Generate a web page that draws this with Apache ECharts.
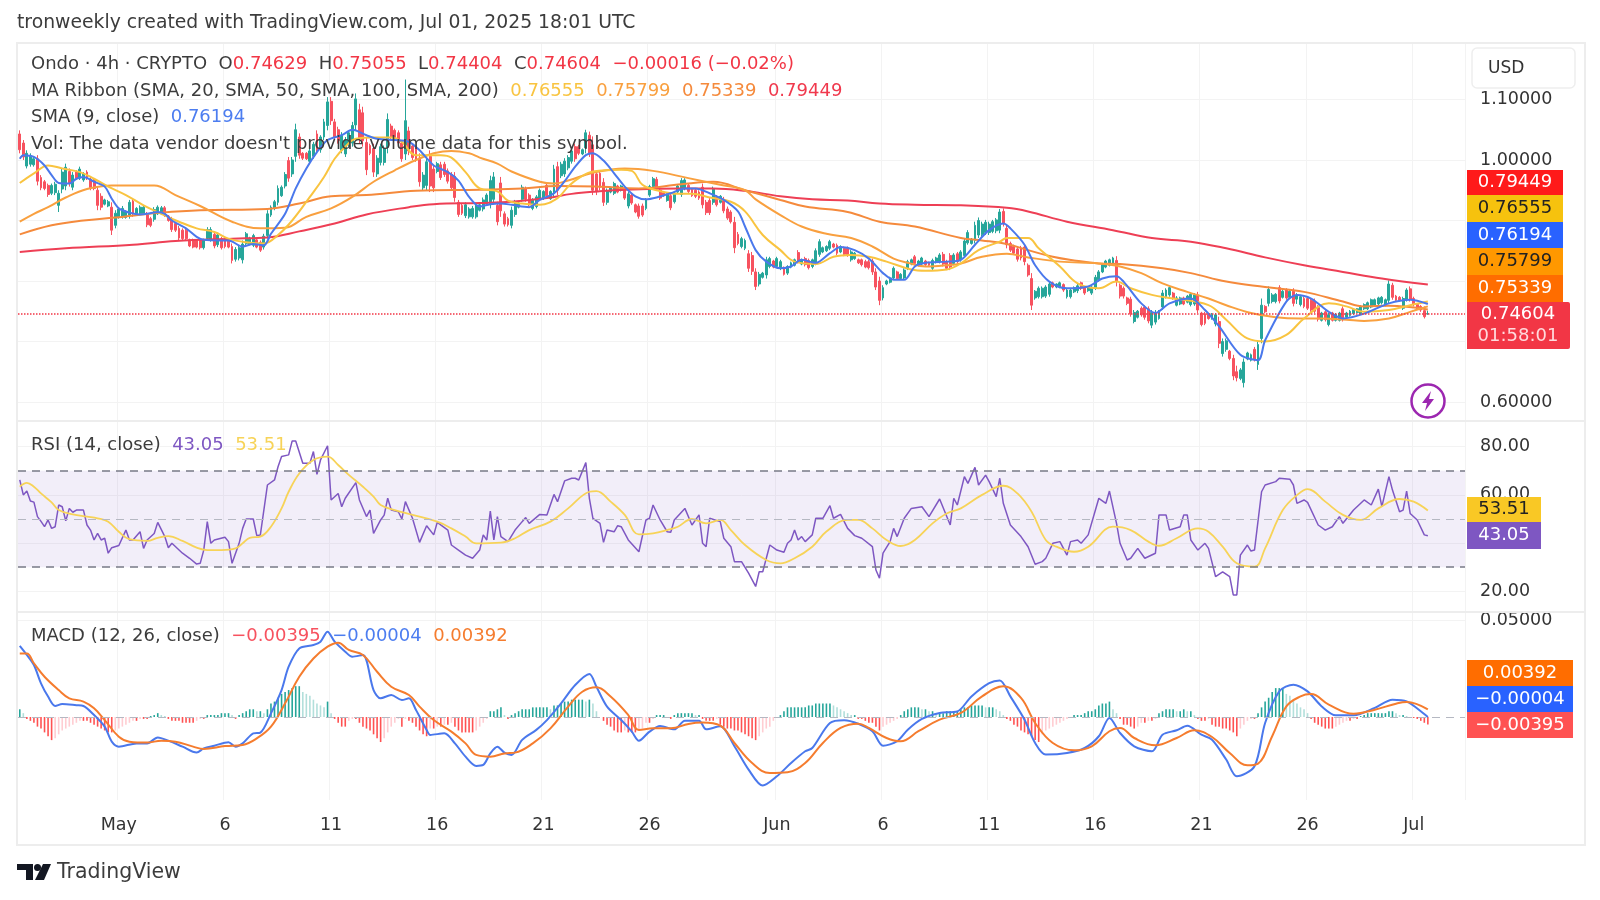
<!DOCTYPE html>
<html><head><meta charset="utf-8">
<style>html,body{margin:0;padding:0;background:#fff}#c{width:1600px;height:900px}</style>
<script src="https://cdn.jsdelivr.net/npm/echarts@6/dist/echarts.min.js"></script>
</head><body><div id="c"></div>
<script>
// Time-axis tick labels: 4h slot index -> label
const tickSlots=[28,58,88,118,148,178,214,244,274,304,334,364,394];
const tickLabels=['May','6','11','16','21','26','Jun','6','11','16','21','26','Jul'];
const slotCount=409;
// Candles in thousandths of a USD: [open, close, low, high], one per 4h slot
const candlesMilli=[
[1043,1017,1011,1049],[1028,1005,1000,1033],[990,1011,986,1016],[993,1007,989,1011],[992,1002,989,1005],[1002,965,958,1008],[971,954,950,975],[964,953,950,967],[958,943,939,961],[945,958,942,961],
[946,960,942,964],[925,945,914,950],[952,980,945,986],[957,988,950,994],[981,961,956,986],[955,975,950,980],[980,970,967,983],[970,985,967,989],[967,977,964,980],[980,970,967,983],
[968,954,950,972],[966,953,950,969],[950,925,917,956],[940,922,917,945],[927,934,925,936],[924,931,922,934],[922,884,876,930],[892,912,887,917],[906,919,903,922],[906,920,903,924],
[905,914,903,917],[908,930,903,934],[932,911,906,936],[911,920,909,922],[911,922,909,925],[911,922,909,925],[910,893,889,914],[903,892,889,906],[902,918,898,922],[911,922,909,925],
[911,921,909,924],[921,909,906,924],[907,900,898,909],[902,885,881,906],[895,884,881,898],[887,871,867,891],[884,870,867,887],[884,870,867,887],[868,858,856,870],[868,856,854,870],
[867,856,854,869],[867,855,852,869],[855,868,852,870],[870,885,867,889],[868,885,865,889],[877,858,854,881],[860,876,856,880],[870,855,852,873],[870,857,854,873],[868,856,854,870],
[857,834,829,862],[836,852,832,856],[838,855,834,859],[835,861,829,867],[862,878,859,881],[861,871,859,873],[859,875,856,878],[868,856,854,870],[864,851,848,867],[856,874,852,878],
[875,911,870,917],[909,922,906,925],[920,931,917,934],[930,953,925,958],[941,955,939,958],[957,976,953,980],[999,970,964,1005],[977,1000,972,1005],[1006,1050,997,1060],[1038,1008,1002,1044],
[1011,1003,1000,1013],[1011,1002,1000,1013],[998,1015,994,1019],[1006,1026,1002,1030],[1043,1017,1011,1049],[1017,1038,1012,1041],[1038,1063,1033,1068],[1057,1096,1049,1104],[1097,1065,1058,1104],[1063,1038,1033,1068],
[1050,1032,1027,1055],[1016,1041,1011,1046],[1010,1033,1005,1038],[1026,1045,1022,1049],[1028,1057,1022,1063],[1058,1101,1049,1110],[1083,1037,1027,1093],[1078,1032,1022,1088],[1029,984,975,1038],[1024,1011,1008,1027],
[1019,980,972,1027],[977,1003,972,1008],[996,1022,991,1027],[996,1019,991,1024],[1021,1067,1011,1077],[1056,1037,1033,1060],[1049,1036,1033,1052],[1045,1028,1024,1049],[1028,1002,997,1033],[1010,1065,1000,1133],
[1048,1015,1008,1055],[1023,1004,1000,1027],[1018,1001,997,1022],[1003,964,956,1011],[954,975,950,980],[958,997,950,1005],[1006,957,947,1016],[985,954,947,991],[981,994,978,997],[992,971,967,997],
[993,976,972,997],[982,965,961,986],[976,954,950,980],[973,938,931,980],[930,910,906,934],[925,912,909,928],[908,926,904,930],[906,919,903,922],[906,920,903,924],[906,924,903,928],
[917,926,915,928],[919,934,915,938],[928,942,926,945],[928,966,920,974],[935,972,927,980],[925,898,892,931],[962,916,906,972],[911,894,890,915],[903,893,890,906],[892,917,887,923],
[910,930,906,934],[922,929,920,931],[935,955,931,959],[952,935,931,956],[942,926,923,945],[920,934,917,937],[923,939,920,942],[937,950,934,953],[936,948,934,950],[958,941,937,962],
[936,948,934,950],[945,985,937,992],[989,950,942,997],[974,993,970,997],[977,998,972,1003],[987,1004,983,1008],[998,1015,994,1019],[1022,1002,997,1027],[1022,1011,1008,1025],[1010,1017,1008,1019],
[1020,1045,1011,1050],[1041,1011,1005,1047],[1025,950,942,1039],[977,948,942,983],[978,955,950,983],[963,930,924,970],[930,949,926,953],[947,954,945,956],[945,961,942,964],[957,947,945,959],
[950,957,948,959],[950,937,934,953],[924,944,920,948],[942,929,926,945],[926,914,912,928],[924,907,903,928],[924,909,906,928],[920,934,917,937],[942,956,939,959],[956,969,953,972],
[968,954,950,972],[950,937,934,953],[946,941,939,948],[933,943,931,945],[941,921,917,945],[931,945,928,948],[947,957,945,959],[943,966,939,970],[953,967,950,970],[958,948,945,961],
[951,941,939,953],[950,940,937,953],[947,937,934,950],[955,926,920,961],[930,913,909,934],[933,913,909,937],[930,952,926,956],[939,926,923,942],[930,940,928,942],[935,916,912,939],
[919,904,901,923],[914,898,895,917],[897,855,846,906],[877,862,859,881],[857,870,854,873],[854,867,851,870],[845,821,815,851],[842,816,810,848],[815,791,785,821],[795,811,791,815],
[806,813,804,815],[810,835,804,840],[824,837,821,840],[833,823,821,835],[824,837,821,840],[821,832,818,835],[822,811,809,824],[813,824,810,826],[823,830,821,832],[826,835,824,837],
[847,832,829,851],[828,835,826,837],[837,827,824,840],[834,822,819,837],[824,835,821,837],[830,850,826,854],[844,865,840,869],[848,855,846,857],[850,857,848,859],[854,865,851,868],
[861,856,854,863],[859,846,843,862],[848,857,846,859],[854,844,841,857],[854,843,840,857],[835,848,832,851],[837,846,835,848],[835,830,828,837],[835,827,824,837],[832,823,821,835],
[832,822,819,835],[833,815,810,837],[815,790,785,821],[800,768,760,807],[772,789,768,793],[795,800,793,802],[798,805,796,807],[805,821,802,824],[815,804,802,817],[804,811,802,813],
[805,818,802,821],[821,832,818,835],[828,835,826,837],[840,829,826,843],[826,833,824,835],[828,838,826,840],[833,827,825,835],[830,826,824,832],[821,834,818,837],[831,838,829,840],
[832,843,829,846],[844,828,824,848],[832,821,818,835],[842,823,818,846],[829,843,826,846],[845,832,829,848],
[835,848,832,851],[842,866,838,871],[863,880,860,884],[862,869,860,871],[867,892,862,898],[876,900,871,905],[877,894,873,898],[880,897,876,901],[880,894,876,898],[882,898,879,901],
[883,901,879,904],[884,914,879,919],[915,895,890,920],[887,860,854,893],[862,851,848,865],[857,846,843,860],[853,836,832,857],[854,838,834,858],[856,832,826,860],[826,810,807,829],
[804,760,752,813],[772,783,769,785],[774,788,771,791],[774,788,771,791],[775,790,772,793],[778,795,774,799],[797,790,788,799],[790,795,788,796],[790,797,788,799],[794,785,782,796],
[774,785,771,788],[774,785,771,788],[782,789,780,791],[784,792,780,795],[797,788,785,799],[789,780,777,791],[784,789,782,791],[780,790,777,793],[788,806,785,810],[802,815,799,818],
[815,827,813,829],[823,833,821,835],[826,835,824,837],[828,838,825,840],[834,799,791,841],[793,775,771,796],[788,775,771,791],[772,763,760,774],[770,746,741,774],[733,748,730,752],
[740,750,738,752],[755,744,741,758],[757,740,736,760],[754,734,730,758],[727,748,722,752],[732,748,728,752],[738,749,736,752],[757,780,752,785],[774,785,771,788],[777,789,774,792],
[780,771,769,782],[760,772,758,775],[762,772,760,774],[772,762,760,774],[765,775,763,777],[761,778,758,781],[762,777,759,780],[777,752,747,782],[747,728,725,749],[746,730,727,749],
[745,738,736,747],[738,745,736,747],[729,744,725,747],[733,697,689,741],[680,700,675,705],[687,701,683,705],[684,672,669,686],[672,643,636,678],[650,640,634,660],[639,653,636,656],
[632,666,624,672],[671,681,669,683],[669,678,667,680],[687,670,667,691],[662,695,653,702],[705,760,697,771],[758,749,747,760],[763,786,758,791],[766,777,763,780],[766,778,763,780],
[789,767,763,793],[773,783,771,785],[785,772,769,788],[773,783,771,785],[783,763,758,788],[770,776,762,780],[761,774,758,777],[771,758,755,774],[771,755,752,774],[768,752,749,771],
[767,750,747,771],[756,737,733,760],[735,747,733,749],[749,736,733,752],[728,744,725,747],[747,735,733,749],[735,745,733,747],[735,747,733,749],[754,736,733,758],[740,747,738,749],
[743,750,741,752],[746,753,744,755],[748,754,747,755],[746,758,744,760],[754,761,752,763],[754,764,752,766],[757,769,755,771],[760,769,758,771],[762,772,760,774],[764,773,761,775],
[760,769,758,771],[768,795,763,801],[793,773,769,797],[775,768,766,777],[773,768,766,775],[755,771,752,774],[769,785,766,788],[787,770,766,791],[771,761,758,774],[761,754,752,763],
[758,752,749,760],[751,741,738,758],[746,746,744,751]];
// Moving averages: [slot, thousandths of a USD]
const sma9=[[0,1002],[1,1008],[4,1005],[7,991],[9,975],[11,962],[14,961],[16,969],[18,972],[21,964],[24,956],[26,936],[28,920],[31,913],[34,910],[36,911],[39,914],[41,911],[43,900],[47,887],[50,873],[52,868],[57,867],[59,867],[63,857],[66,861],[69,859],[71,878],[75,911],[78,953],[81,986],[84,1013],[87,1033],[91,1041],[94,1050],[98,1041],[101,1035],[106,1033],[110,1030],[113,1016],[117,991],[121,980],[124,966],[127,939],[130,923],[133,927],[136,928],[139,926],[144,922],[147,934],[151,945],[154,965],[157,989],[160,1008],[162,1011],[165,999],[168,978],[171,956],[174,940],[177,935],[180,938],[184,945],[188,953],[191,953],[195,945],[199,934],[203,915],[205,890],[208,851],[211,832],[215,821],[218,824],[221,835],[225,830],[229,846],[232,856],[236,851],[240,837],[244,813],[247,802],[250,802],[253,824],[256,830],[262,832],[266,835],[270,860],[274,884],[278,895],[280,887],[284,860],[287,826],[291,799],[296,788],[302,791],[306,804],[310,808],[312,799],[317,763],[321,747],[325,763],[331,771],[335,752],[339,725],[345,678],[350,669],[352,702],[358,766],[361,777],[365,771],[370,749],[374,738],[380,746],[387,763],[393,769],[398,762]];
const sma20=[[0,962],[4,978],[8,991],[12,986],[17,980],[21,969],[25,956],[30,942],[35,925],[40,911],[45,898],[50,887],[55,881],[59,870],[64,864],[69,862],[73,876],[77,900],[82,939],[86,972],[89,1002],[92,1022],[95,1035],[100,1037],[105,1037],[108,1030],[112,1008],[119,1008],[122,1004],[126,980],[130,953],[135,948],[138,933],[142,928],[147,926],[152,937],[155,956],[158,970],[162,981],[170,984],[173,982],[176,959],[180,950],[186,944],[190,944],[195,938],[201,931],[205,915],[210,876],[215,851],[219,832],[225,828],[230,840],[235,843],[240,840],[245,832],[252,819],[256,817],[262,819],[266,829],[271,851],[277,865],[279,871],[285,871],[288,854],[294,824],[299,796],[305,788],[310,799],[314,788],[320,777],[326,771],[336,760],[341,736],[347,705],[352,700],[358,711],[363,738],[370,763],[375,758],[380,749],[387,752],[393,760],[398,766]];
const sma50=[[0,898],[4,911],[8,922],[13,938],[19,952],[26,958],[38,958],[44,942],[51,924],[60,898],[68,887],[75,888],[81,906],[88,920],[94,939],[100,964],[106,983],[112,1000],[117,1011],[122,1015],[127,1011],[130,1004],[135,994],[139,981],[147,964],[151,961],[155,966],[162,979],[171,986],[179,982],[189,970],[198,959],[205,950],[208,935],[215,909],[221,890],[228,878],[235,871],[241,857],[247,837],[251,830],[256,824],[262,826],[266,829],[272,840],[279,845],[285,839],[294,832],[305,829],[311,824],[317,813],[323,796],[330,782],[336,771],[341,760],[348,747],[355,740],[362,738],[368,738],[375,736],[380,734],[387,738],[393,749],[398,758]];
const sma100=[[0,877],[9,892],[18,900],[27,905],[40,913],[51,917],[70,919],[79,928],[88,940],[98,942],[112,949],[130,951],[142,953],[152,957],[163,956],[175,953],[187,960],[196,964],[205,950],[215,934],[222,923],[234,914],[243,898],[253,890],[266,871],[272,867],[279,861],[285,851],[292,840],[298,834],[305,829],[311,828],[323,821],[331,813],[341,799],[352,790],[363,782],[374,766],[380,758],[387,759],[398,753]];
const sma200=[[0,848],[13,854],[32,860],[44,866],[60,870],[70,872],[79,882],[89,895],[98,910],[110,922],[117,927],[130,929],[139,931],[149,937],[156,944],[163,948],[171,951],[187,953],[196,953],[205,949],[215,940],[224,935],[234,933],[243,928],[253,926],[266,925],[279,921],[285,915],[296,898],[309,884],[320,871],[331,865],[341,854],[352,839],[363,826],[374,815],[385,804],[398,794]];
// RSI and its MA: [slot, value]
const rsiLine=[[0,66.2],[1,60],[2,61.6],[3,57.5],[4,57],[5,51],[6,49],[7,46.8],[8,49.6],[9,46.1],[10,46.8],[11,55.8],[12,55.1],[13,49.2],[14,54.4],[15,52.8],[16,53.7],[18,53.7],[19,47.5],[20,45.4],[21,41.3],[22,44],[23,41.3],[24,42],[25,35.8],[26,38.1],[28,39],[30,45.4],[31,41.3],[32,41.3],[34,44.7],[35,37.8],[36,41.3],[38,44],[39,48.6],[41,42.7],[42,38.1],[43,39.9],[46,35.8],[48,33.7],[50,31.3],[51,31.6],[52,37.1],[53,48.9],[54,39.9],[55,41.3],[58,42.4],[59,40.6],[60,31.6],[62,39.9],[63,46.1],[64,50],[66,50],[67,43.1],[68,43.4],[70,64.1],[72,66.2],[73,71.7],[74,75.9],[76,76.6],[77,82.4],[78,82.4],[80,73.1],[82,73.1],[83,78],[84,68.5],[85,74.5],[87,80.4],[88,57.9],[90,60.6],[91,55.1],[92,58.6],[95,65.1],[96,57.9],[98,51],[99,53.7],[100,44],[102,49.6],[103,51.6],[104,58.6],[105,53.7],[107,53],[108,50],[109,57.2],[111,50.3],[113,40.3],[115,47.2],[117,43.4],[118,48.6],[121,45.4],[122,39.2],[124,37.1],[126,35],[128,33.7],[130,37.1],[131,43.4],[132,41.3],[133,53.3],[134,41.3],[135,51],[136,42.7],[138,40.6],[140,45.4],[142,48.9],[143,50.6],[144,48.2],[147,51.9],[149,51.7],[151,60.2],[152,57.2],[154,65.8],[156,66.9],[157,66.9],[158,66.2],[160,73.4],[161,58.6],[162,50.3],[164,48.2],[165,40.3],[166,45.4],[168,44.7],[169,47.2],[170,46.8],[172,41.3],[175,36.4],[177,49.6],[178,50.3],[179,55.8],[181,49.6],[183,44.7],[184,44.5],[185,49.6],[188,54.4],[190,47.5],[192,51.7],[193,39.9],[194,38.5],[195,50.3],[198,48.9],[199,42],[201,38.5],[202,32.3],[204,32.3],[206,27.5],[208,22],[209,28.1],[210,28.1],[212,39.2],[214,37.1],[216,36.2],[217,39.9],[218,41.3],[219,45.4],[220,41.3],[221,42.7],[222,40.6],[224,43.4],[225,50.3],[227,50.3],[229,55.5],[230,50.3],[232,51.9],[234,46.1],[236,43.1],[238,42],[241,38.5],[242,28.8],[243,25.4],[244,35.8],[246,40.6],[247,46.1],[248,42.7],[250,50.3],[252,54.4],[255,55.1],[257,51],[260,58.3],[263,47.5],[264,58.6],[265,55.8],[267,67.6],[268,64.8],[270,71.4],[271,64.1],[273,68.2],[274,65.5],[276,59.3],[277,66.9],[278,56.5],[280,47.5],[283,42.7],[285,38.5],[287,31.2],[289,32.3],[290,33.7],[292,39.9],[294,40.6],[296,35],[297,40.6],[299,41.3],[300,39.9],[302,43.4],[305,58.6],[307,56.5],[308,61.6],[310,48.2],[311,39.9],[313,33],[314,33.7],[316,37.8],[318,33.7],[321,35.8],[322,51.7],[324,51.7],[325,45.4],[328,46.8],[329,51.7],[330,51.7],[331,41.3],[333,37.1],[335,39.9],[336,37.8],[338,26.1],[340,28.1],[342,26.1],[343,18.5],[344,18.5],[345,35],[347,39.2],[348,36.7],[349,37.1],[351,61.3],[352,64.1],[355,65.5],[356,66.9],[359,66.5],[360,64.1],[361,56.5],[363,57.9],[364,56.9],[367,47.5],[369,45.4],[371,46.8],[373,51],[374,48.2],[377,53.7],[380,57.9],[382,55.8],[384,62.4],[385,55.1],[387,67.6],[388,62],[390,53],[391,53.7],[392,61.6],[393,52.3],[395,49.6],[397,43.4],[398,43.05]];
const rsiMa=[[0,63.4],[2,65],[4,63.4],[6,60.6],[9,56.9],[11,53.7],[15,51.9],[19,51],[22,50.3],[25,48.9],[28,44.7],[31,41.6],[36,40.9],[39,42.2],[42,42.9],[46,40.9],[50,38.1],[53,37.1],[57,37.1],[61,37.8],[63,39.9],[65,42.2],[68,42.7],[71,46.8],[74,54.4],[76,61.3],[79,68.9],[83,74.5],[87,75.9],[90,72.4],[93,68.3],[97,63.4],[100,59.3],[102,55.8],[106,53.7],[111,51.7],[118,48.9],[122,46.1],[126,42.7],[129,39.9],[136,40.2],[140,42],[144,45.4],[150,48.9],[155,54.4],[161,61.3],[163,61.6],[167,57.2],[171,51.7],[175,43.6],[179,44],[183,45.4],[186,46.8],[190,50],[194,48.2],[198,49.6],[201,45.4],[205,39.2],[211,33],[215,31.6],[219,33.7],[224,38.5],[228,44.8],[234,49.6],[237,49.6],[241,46.1],[245,41.3],[249,38.8],[253,41.3],[258,48.2],[262,52.3],[266,54.4],[272,60],[278,63.8],[282,60.6],[286,53],[290,41.3],[293,38.5],[298,36.4],[302,38.5],[309,46.8],[314,45.4],[319,40.6],[322,38.9],[327,42],[333,46.1],[336,44.7],[340,38.5],[344,31.6],[349,30.2],[352,37.8],[357,53.7],[361,59.9],[364,62.4],[369,57.2],[374,51.7],[379,49.6],[384,54.4],[390,58.3],[394,57.2],[398,53.51]];
// MACD lines in thousandths: [slot, value]
const macdLine=[[0,36.9],[2,32.2],[4,27],[6,17.5],[8,10.6],[10,5.7],[12,6.7],[16,6.1],[18,5.7],[21,1],[24,-5],[26,-12.8],[28,-15.4],[33,-13.7],[36,-13.7],[39,-10.6],[42,-12.3],[46,-15.4],[50,-18.5],[52,-16.3],[55,-14.9],[59,-13.1],[61,-15.4],[63,-13.7],[66,-8.5],[68,-8.1],[71,1.9],[74,14],[76,26.1],[79,35.6],[83,37.4],[85,39.1],[87,44.3],[89,39.1],[92,33.9],[94,31.3],[97,32.2],[100,14],[102,9.7],[105,11.4],[108,8.8],[110,9.7],[112,3.6],[115,-6.7],[116,-9.3],[120,-8.5],[123,-13.7],[126,-20.6],[129,-25.4],[131,-24.9],[133,-18.9],[135,-15.4],[137,-18.5],[139,-19.7],[142,-11.9],[146,-6.7],[149,-1.6],[153,7.1],[157,16.6],[161,22.3],[163,15.7],[166,5.4],[170,-1.6],[173,-7.6],[175,-12.3],[178,-7.6],[181,-4.7],[185,-6.4],[188,-1.9],[192,-1.9],[194,-6.4],[198,-4.8],[202,-15.2],[206,-27.3],[210,-35.6],[214,-30.8],[218,-23.9],[222,-17.8],[224,-16.1],[229,-3.1],[233,-1.7],[237,-3.5],[241,-7.4],[244,-14.9],[248,-12.6],[251,-6.6],[255,-1],[260,2.1],[265,2.9],[269,10.7],[274,17.6],[277,19],[280,10.7],[284,-1.4],[287,-13.5],[290,-19.5],[296,-18.7],[301,-16.1],[305,-10],[308,-0.5],[311,-8.3],[315,-15.2],[320,-17.8],[323,-9.2],[327,-6.9],[330,-4.5],[334,-9.2],[337,-11.8],[341,-22.1],[344,-30.8],[349,-25.6],[352,-3.1],[356,13.3],[360,16.8],[364,13.3],[368,5.5],[372,0.9],[377,0.9],[383,4.7],[388,9],[392,8.1],[398,-0.04]];
const macdSignal=[[0,33],[2,33],[4,27.9],[7,20.9],[11,14],[14,9.7],[18,8],[21,4.5],[24,-1.6],[28,-10.2],[31,-12.8],[36,-13.3],[40,-12.3],[44,-12.8],[49,-15.4],[52,-16.6],[58,-15.1],[63,-14.5],[67,-11.1],[71,-5],[75,7.1],[79,20.9],[83,30.4],[87,36.5],[90,38.6],[93,34.8],[97,32.2],[101,23.5],[105,15.7],[110,11.4],[113,5.4],[117,-1.6],[122,-7.6],[126,-13.7],[129,-19.7],[133,-20.6],[137,-18.9],[140,-18.5],[145,-13.7],[150,-5.9],[155,5.4],[159,13.1],[163,15.4],[167,10.6],[172,1],[175,-6.7],[179,-5.9],[184,-5.9],[189,-3.6],[193,-2.9],[198,-4.5],[202,-13.5],[207,-23.9],[212,-29.1],[217,-28.7],[222,-23.9],[227,-13.5],[232,-5.7],[237,-3.5],[240,-5.7],[245,-10.9],[249,-12.6],[254,-7.4],[260,-1.4],[266,2.1],[272,10.7],[278,15.9],[283,9.9],[287,-3.1],[292,-13.5],[298,-17.3],[303,-15.2],[308,-7.4],[311,-5.7],[315,-10.9],[321,-14.7],[327,-10.9],[332,-6.9],[337,-10.4],[342,-18.7],[347,-25.1],[350,-24.2],[354,-10],[358,5.5],[362,10.7],[365,11.9],[370,6.4],[377,1.7],[383,3.8],[389,6.9],[392,7.8],[398,3.92]];
// MACD histogram in thousandths, one per 4h slot
const macdHist=[4,2,-1,-2,-3,-5,-6,-8,-10,-12,-11,-9,-7,-6,-5,-4,-3,-2,-2,-2,-3,-4,-5,-6,-7,-8,-8,-7,-6,-5,-4,-3,-2,-2,-1,-1,-1,.5,1,2,1,.5,-1,-2,-2,-2,-3,-3,-3,-3,-2,-1,-1,1,1,1,1,2,2,2,1,-1,1,2,3,4,4,3,3,2,4,7,8,10,12,13,14,15,16,16,13,12,11,9,7,6,5,8,2,-1,-3,-5,-5,-2,-1,-1,-3,-5,-6,-7,-9,-11,-13,-11,-8,-5,-3,-1,-5,-1,-2,-3,-5,-7,-9,-10,-6,-6,-5,-5,-4,-4,-3,-5,-7,-8,-8,-8,-8,-7,-5,-3,-1,3,3,4,5,1,-1,1,2,3,4,4,4,5,5,5,5,5,4,6,6,7,8,8,9,9,9,9,8,9,7,3,0,-2,-4,-5,-7,-8,-8,-7,-8,-8,-8,-7,-6,-3,-3,-1,1,1,1,0,-1,1,2,2,2,2,2,1,1,-1,-2,-2,-2,-1,-4,-5,-6,-6,-7,-7,-8,-9,-10,-11,-12,-10,-8,-6,-5,-2,0,1,3,5,5,5,5,5,5,6,6,7,7,7,7,7,6,5,4,3,2,1,1,-1,-1,-2,-3,-3,-5,-7,-5,-4,-3,-2,-1,1,3,4,5,5,5,4,4,3,3,2,2,2,3,3,3,3,4,5,5,6,6,6,6,5,5,5,4,3,1,-1,-2,-4,-5,-7,-8,-9,-10,-12,-13,-9,-7,-6,-5,-4,-3,-2,-1,0,1,1,1,2,3,3,4,6,7,7,8,4,2,-1,-4,-4,-5,-6,-5,-3,-3,-2,-2,-1,2,3,4,4,4,3,3,4,3,3,1,-1,-2,-2,-1,-4,-5,-5,-6,-6,-7,-8,-10,-6,-4,-2,-1,-1,2,5,8,10,13,15,15,15,12,11,9,7,5,4,2,-1,-3,-4,-5,-6,-6,-6,-5,-4,-3,-2,-2,-1,-1,.5,1,2,2,2,2,2,2,3,3,2,1,1,.5,0,-.5,-1,-2,-3,-3.95];
// Last values shown in legends and on the axis tags
const ohlcLast=['0.74629','0.75055','0.74404','0.74604','−0.00016 (−0.02%)'];
const ribbonLast=['0.76555','0.75799','0.75339','0.79449'];
const sma9Last='0.76194', countdown='01:58:01';
const rsiLast=['43.05','53.51'];
const macdLast=['−0.00395','−0.00004','0.00392'];
const priceTicks=[0.6,0.7,0.8,0.9,1.0,1.1], priceLabels=[0.6,1.0,1.1];
const rsiTicks=[20,40,60,80], rsiLabels=[20,60,80];

const C={up:'#26A69A',down:'#F7525F',blue:'#4A78EC',y:'#F9C440',o50:'#F9A03F',o100:'#F58A3C',r:'#EE3F55',purple:'#7E57C2',rsiY:'#F7D358',macdO:'#F57C2E',text:'#3C3C3C',grid:'#F3F3F3'};
const FONT='"DejaVu Sans"';
const FS=18;
const cats=Array.from({length:slotCount},(_,i)=>{const k=tickSlots.indexOf(i);return k>=0?tickLabels[k]:''});
const isTick=i=>tickSlots.includes(i);
const scale=a=>a.map(p=>[p[0],p[1]/1000]);
const xAxisBase=(idx,show)=>({type:'category',gridIndex:idx,data:cats,boundaryGap:true,axisLine:{show:false},axisTick:{show:false,interval:isTick},
  splitLine:{show:true,interval:isTick,lineStyle:{color:C.grid,width:1}},
  axisLabel:{show:show,interval:isTick,margin:16,fontFamily:FONT,fontSize:17.5,color:'#333',hideOverlap:false}});
const yAxisBase=(idx,min,max,ticks,labels,fmt)=>({type:'value',gridIndex:idx,position:'right',min,max,scale:true,axisLine:{show:false},
  axisTick:{show:false,customValues:ticks},splitLine:{show:true,lineStyle:{color:C.grid,width:1}},
  axisLabel:{customValues:labels,margin:15,fontFamily:FONT,fontSize:17.5,color:'#333',formatter:fmt}});
const lineS=(name,data,color,xi,width,smooth)=>({type:'line',name,data,xAxisIndex:xi,yAxisIndex:xi,showSymbol:false,smooth:smooth,lineStyle:{color,width},itemStyle:{color},silent:true,z:3});

const histColor=p=>{const i=p.dataIndex,v=macdHist[i],pv=i>0?macdHist[i-1]:0;
  if(v>=0)return v>=pv?'#26A69A':'#B2DFDB';return v<=pv?'#FF5252':'#FFCDD2'};

const rs=(color,size)=>({color,fontFamily:FONT,fontSize:size||FS,fontWeight:'normal'});
const rich={n:rs(C.text),hd:rs(C.text,18.8),red:rs('#F23645'),bl:rs('#4C7DF0'),yl:rs('#F9C440'),or:rs('#F9A03F'),o2:rs('#F58A3C'),rd:rs('#F0394D'),pu:rs('#7E57C2'),ry:rs('#F7D358'),mo:rs('#F57C2E'),mr:rs('#F7525F')};
const ttl=(left,top,text)=>({left,top,text,textStyle:{rich,fontFamily:FONT,fontSize:FS,fontWeight:'normal',color:C.text},padding:0,z:20});
const titles=[
 ttl(31,55,`{n|Ondo · 4h · CRYPTO  O}{red|${ohlcLast[0]}}{n|  H}{red|${ohlcLast[1]}}{n|  L}{red|${ohlcLast[2]}}{n|  C}{red|${ohlcLast[3]}  ${ohlcLast[4]}}`),
 ttl(31,82,`{n|MA Ribbon (SMA, 20, SMA, 50, SMA, 100, SMA, 200)  }{yl|${ribbonLast[0]}  }{or|${ribbonLast[1]}  }{o2|${ribbonLast[2]}  }{rd|${ribbonLast[3]}}`),
 ttl(31,108,`{n|SMA (9, close)  }{bl|${sma9Last}}`),
 ttl(31,135,`{n|Vol: The data vendor doesn't provide volume data for this symbol.}`),
 ttl(31,436,`{n|RSI (14, close)  }{pu|${rsiLast[0]}  }{ry|${rsiLast[1]}}`),
 ttl(31,627,`{n|MACD (12, 26, close)  }{mr|${macdLast[0]}}{bl|  ${macdLast[1]}  }{mo|${macdLast[2]}}`),
 ttl(17,14,`{hd|tronweekly created with TradingView.com, Jul 01, 2025 18:01 UTC}`)
];
const tag=(x,y,w,h,fill,txt,color,size)=>[
 {type:'rect',shape:{x,y,width:w,height:h},style:{fill},z:30},
 {type:'text',x:x+w/2,y:y+h/2,style:{text:txt,fill:color,font:`${size||18}px ${FONT}`,align:'center',verticalAlign:'middle'},z:31}];
const graphic=[
 {type:'rect',shape:{x:17,y:43,width:1568,height:802},style:{fill:'none',stroke:'#EDEDED',lineWidth:2},z:1},
 {type:'line',shape:{x1:17,y1:421,x2:1585,y2:421},style:{stroke:'#EDEDED',lineWidth:2},z:1},
 {type:'line',shape:{x1:17,y1:612,x2:1585,y2:612},style:{stroke:'#EDEDED',lineWidth:2},z:1},
 {type:'rect',shape:{x:1472,y:48,width:103,height:40,r:5},style:{fill:'#fff',stroke:'#EEEEEE',lineWidth:1.5},z:30},
 {type:'text',x:1488,y:69,style:{text:'USD',fill:'#333',font:`17px ${FONT}`,verticalAlign:'middle'},z:31},
 ...tag(1467,170,96,25,'#FF1A1A',ribbonLast[3],'#fff'),
 ...tag(1467,195,96,27,'#F6C20E',ribbonLast[0],'#222'),
 ...tag(1467,222,96,26,'#2962FF',sma9Last,'#fff'),
 ...tag(1467,248,96,27,'#FF9800',ribbonLast[1],'#222'),
 ...tag(1467,275,96,27,'#FF6D00',ribbonLast[2],'#fff'),
 {type:'rect',shape:{x:1467,y:302,width:103,height:47,r:[0,2,2,0]},style:{fill:'#F23645'},z:30},
 {type:'text',x:1518,y:314,style:{text:ohlcLast[3],fill:'#fff',font:`18px ${FONT}`,align:'center',verticalAlign:'middle'},z:31},
 {type:'text',x:1518,y:336,style:{text:countdown,fill:'#FFD9DC',font:`18px ${FONT}`,align:'center',verticalAlign:'middle'},z:31},
 ...tag(1467,497,74,25,'#F9C825',rsiLast[1],'#222'),
 ...tag(1467,522,74,27,'#7E57C2',rsiLast[0],'#fff'),
 ...tag(1467,660,106,26,'#FF6D00',macdLast[2],'#fff'),
 ...tag(1467,686,106,26,'#2962FF',macdLast[1],'#fff'),
 ...tag(1467,712,106,26,'#FF5252',macdLast[0],'#fff'),
 {type:'circle',shape:{cx:1428,cy:401,r:16.5},style:{fill:'#fff',stroke:'#9C27B0',lineWidth:2.5},z:30},
 {type:'polygon',shape:{points:[[1431,391],[1422,403],[1427,403],[1425,411],[1434,399],[1429,399]]},style:{fill:'#9C27B0'},z:31},
 {type:'polygon',shape:{points:[[17,864],[33,864],[33,880],[26,880],[26,870],[17,870]]},style:{fill:'#131722'},z:30},
 {type:'circle',shape:{cx:37.5,cy:867.5,r:3.5},style:{fill:'#131722'},z:30},
 {type:'polygon',shape:{points:[[43,864],[51,864],[44,880],[35,880]]},style:{fill:'#131722'},z:30},
 {type:'text',x:57,y:873,style:{text:'TradingView',fill:'#3C3C3C',font:`20.5px ${FONT}`,verticalAlign:'middle'},z:31}
];
const option={animation:false,backgroundColor:'#fff',title:titles,graphic,tooltip:{show:false},
 grid:[{left:18,width:1447,top:43,height:377},{left:18,width:1447,top:422,height:190},{left:18,width:1447,top:613,height:187}],
 xAxis:[xAxisBase(0,false),xAxisBase(1,false),xAxisBase(2,true)],
 yAxis:[
  yAxisBase(0,0.5702,1.1934,priceTicks,priceLabels,v=>(+v).toFixed(5)),
  yAxisBase(1,11.4,90.25,rsiTicks,rsiLabels,v=>(+v).toFixed(2)),
  yAxisBase(2,-0.0431,0.054,[0.05],[0.05],v=>(+v).toFixed(5))],
 series:[
  {type:'candlestick',data:candlesMilli.map(r=>r.map(v=>v/1000)),xAxisIndex:0,yAxisIndex:0,barWidth:2.4,silent:true,z:2,
   itemStyle:{color:C.up,color0:C.down,borderColor:C.up,borderColor0:C.down,borderWidth:1},
   markLine:{silent:true,symbol:'none',precision:5,label:{show:false},data:[{yAxis:0.74604}],lineStyle:{color:'#F23645',type:'dotted',width:1.5}}},
  lineS('SMA200',scale(sma200),C.r,0,2,.4),
  lineS('SMA100',scale(sma100),C.o100,0,2,.4),
  lineS('SMA50',scale(sma50),C.o50,0,2,.4),
  lineS('SMA20',scale(sma20),C.y,0,2,.4),
  lineS('SMA9',scale(sma9),C.blue,0,2,.3),
  {...lineS('RSI',rsiLine,C.purple,1,1.5,false),
   markArea:{silent:true,itemStyle:{color:'rgba(126,87,194,0.1)'},data:[[{yAxis:30},{yAxis:70}]]},
   markLine:{silent:true,symbol:'none',label:{show:false},data:[
     {yAxis:70,lineStyle:{color:'#787B86',type:[8,6],width:1.5}},
     {yAxis:50,lineStyle:{color:'#B5B8C2',type:[8,6],width:1.2}},
     {yAxis:30,lineStyle:{color:'#787B86',type:[8,6],width:1.5}}]}},
  lineS('RSI MA',rsiMa,C.rsiY,1,1.8,.4),
  {type:'bar',data:macdHist.map(v=>v/1000),xAxisIndex:2,yAxisIndex:2,barWidth:1.6,silent:true,z:2,itemStyle:{color:histColor},
   markLine:{silent:true,symbol:'none',label:{show:false},data:[{yAxis:0}],lineStyle:{color:'#B5B8C2',type:[8,6],width:1.2}}},
  lineS('MACD',scale(macdLine),C.blue,2,2,.3),
  lineS('Signal',scale(macdSignal),C.macdO,2,2,.4)
 ]};
echarts.init(document.getElementById('c'),null,{renderer:'canvas'}).setOption(option);
</script></body></html>
